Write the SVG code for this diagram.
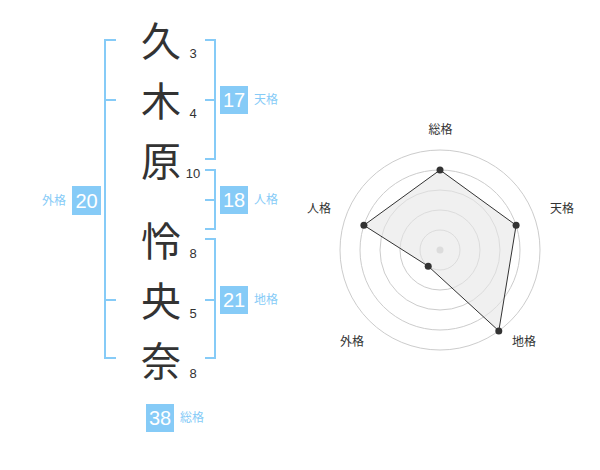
<svg xmlns="http://www.w3.org/2000/svg" width="600" height="470" viewBox="0 0 600 470">
<style>
.ch{font-family:"Noto Sans CJK JP","Noto Sans CJK SC",sans-serif;font-size:40px;fill:#333;text-anchor:middle}
.st{font-family:"Liberation Sans",Arial,sans-serif;font-size:13px;fill:#333;text-anchor:middle}
.br{fill:none;stroke:#86cbf7;stroke-width:2}
.bx{fill:#86cbf7}
.bn{font-family:"Liberation Sans",Arial,sans-serif;font-size:20px;fill:#fff;text-anchor:middle}
.lb{font-family:"Noto Sans CJK JP","Noto Sans CJK SC",sans-serif;font-size:12px;fill:#86cbf7}
.rl{font-family:"Noto Sans CJK JP","Noto Sans CJK SC",sans-serif;font-size:12px;fill:#333;text-anchor:middle}
.ring{fill:none;stroke:#ccc;stroke-width:1}
.pt{fill:#333}
</style>
<rect width="600" height="470" fill="#fff"/>
<g id="chars">
<text class="ch" x="161" y="56">久</text>
<text class="ch" x="161" y="116">木</text>
<text class="ch" x="161" y="176">原</text>
<text class="ch" x="161" y="256">怜</text>
<text class="ch" x="161" y="316">央</text>
<text class="ch" x="161" y="376">奈</text>
</g>
<g id="strokes">
<text class="st" x="193" y="58">3</text>
<text class="st" x="193" y="118">4</text>
<text class="st" x="193" y="178">10</text>
<text class="st" x="193" y="258">8</text>
<text class="st" x="193" y="318">5</text>
<text class="st" x="193" y="378">8</text>
</g>
<g id="connectors">
<path class="br" d="M116,40 H105 V358 H116 M105,100 H116 M105,300 H116"/>
<path class="br" d="M205,40 H215 V159 H205 M205,100 H215"/>
<path class="br" d="M205,170 H215 V229 H205 M205,200 H215"/>
<path class="br" d="M205,239 H215 V358 H205 M205,300 H215"/>
</g>
<g id="gaikaku">
<rect class="bx" x="72" y="186" width="29" height="29"/>
<text class="bn" x="86.5" y="207.5">20</text>
<text class="lb" x="66" y="205" text-anchor="end">外格</text>
</g>
<g id="tenkaku">
<rect class="bx" x="220" y="86" width="28" height="28"/>
<text class="bn" x="234" y="107">17</text>
<text class="lb" x="254" y="104">天格</text>
</g>
<g id="jinkaku">
<rect class="bx" x="220" y="186" width="28" height="28"/>
<text class="bn" x="234" y="207">18</text>
<text class="lb" x="254" y="204">人格</text>
</g>
<g id="chikaku">
<rect class="bx" x="220" y="286" width="28" height="28"/>
<text class="bn" x="234" y="307">21</text>
<text class="lb" x="254" y="304">地格</text>
</g>
<g id="soukaku">
<rect class="bx" x="146" y="404" width="28" height="28"/>
<text class="bn" x="160" y="425">38</text>
<text class="lb" x="180" y="422">総格</text>
</g>
<g id="radar">
<circle class="ring" cx="440" cy="250" r="20"/>
<circle class="ring" cx="440" cy="250" r="40"/>
<circle class="ring" cx="440" cy="250" r="60"/>
<circle class="ring" cx="440" cy="250" r="80"/>
<circle class="ring" cx="440" cy="250" r="100"/>
<circle cx="440" cy="250" r="3.5" fill="#ccc"/>
<polygon points="440,170 516.1,225.3 498.8,330.9 428.2,266.2 363.9,225.3" fill="#e6e6e6" fill-opacity="0.6" stroke="#333" stroke-width="1"/>
<circle class="pt" cx="440" cy="170" r="3.5"/>
<circle class="pt" cx="516.1" cy="225.3" r="3.5"/>
<circle class="pt" cx="498.8" cy="330.9" r="3.5"/>
<circle class="pt" cx="428.2" cy="266.2" r="3.5"/>
<circle class="pt" cx="363.9" cy="225.3" r="3.5"/>
<text class="rl" x="440.5" y="134">総格</text>
<text class="rl" x="562" y="213">天格</text>
<text class="rl" x="524" y="346">地格</text>
<text class="rl" x="352" y="346">外格</text>
<text class="rl" x="319" y="213">人格</text>
</g>
</svg>
